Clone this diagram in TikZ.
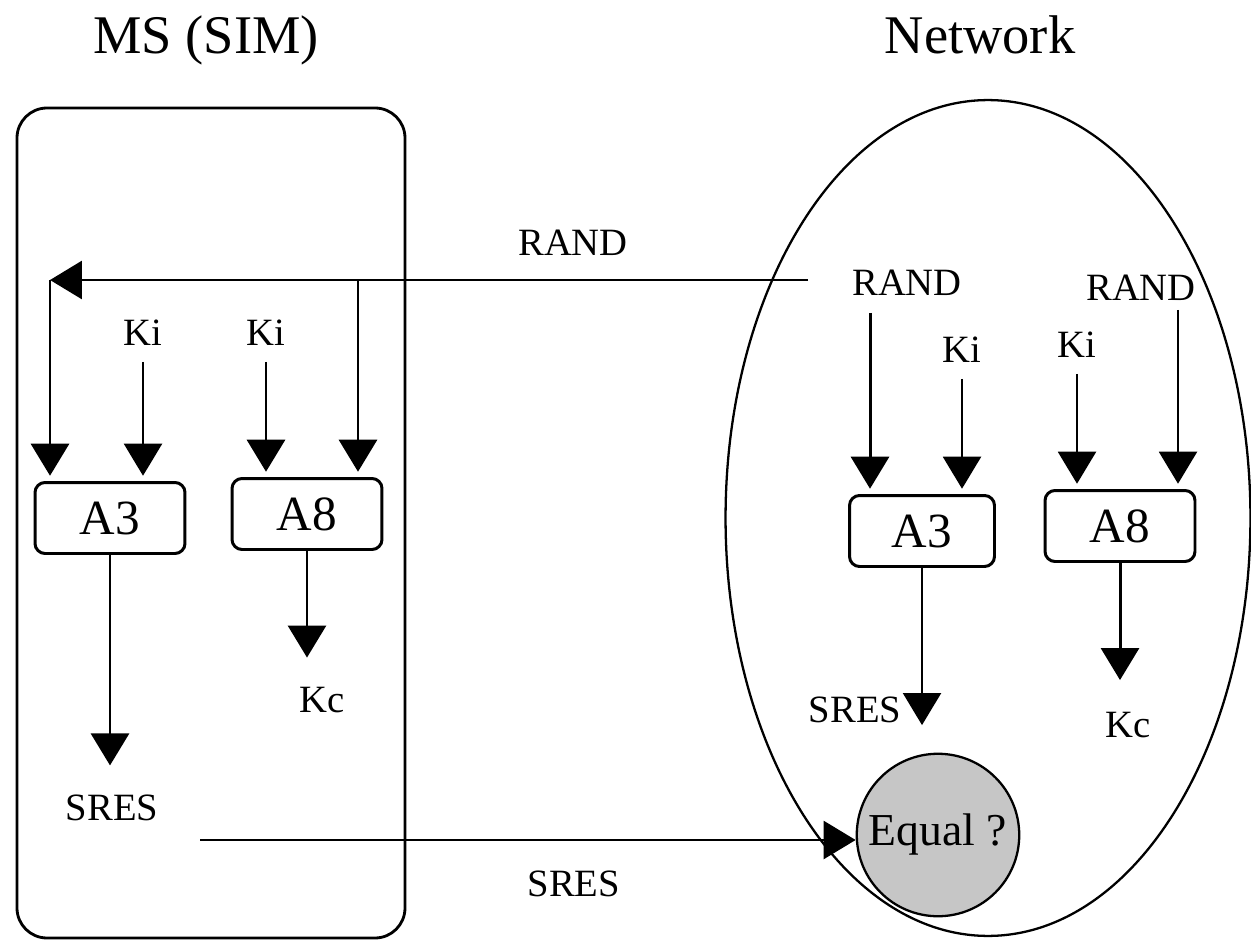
\documentclass[tikz,border=0pt]{standalone}
\usepackage{fontspec}
\setmainfont{Liberation Serif}
\usetikzlibrary{arrows.meta,positioning,calc}
\tikzset{%
  % containers
  container/.style={draw, line width=1.6pt, rounded corners=0.6cm},
  % nodes
  algbox/.style={draw, rounded corners=0.2cm, line width=1.7pt, minimum width=3cm,
    minimum height=1.42cm, font=\fontsize{28}{30}\selectfont},
  lbl/.style={inner sep=1pt, font=\fontsize{22}{24}\selectfont},
  heading/.style={inner sep=1pt, font=\fontsize{31}{34}\selectfont},
  compare/.style={draw, circle, line width=1.3pt, fill=gray!45, minimum size=3.25cm,
    inner sep=0pt, font=\fontsize{26}{28}\selectfont},
  % edge styles
  rel/.style={-{Triangle[width=0.76cm, length=0.64cm]}, line width=1.7pt},
  thinrel/.style={rel, line width=1.2pt},
}

\begin{document}
\begin{tikzpicture}[x=0.02cm, y=-0.02cm]
  \useasboundingbox (0,0) rectangle (1251,942);

  % Titles
  \node[heading] (t_ms) at (206,40) {MS (SIM)};
  \node[heading] (t_net) at (980,35) {Network};

  % Containers
  \draw[container] (17,108) rectangle (405,938);
  \node[compare] (equal) at (938,835) {Equal ?};
  \draw[line width=1.3pt] (988,518) ellipse [x radius=5.25cm, y radius=8.36cm];

  % MS side
  \node[algbox] (ms_a3) at (110,518) {A3};
  \node[algbox] (ms_a8) at (307,514) {A8};
  \node[lbl] (ms_ki1) at (143,333) {Ki};
  \node[lbl] (ms_ki2) at (266,333) {Ki};
  \node[lbl] (ms_sres) at (112,808) {SRES};
  \node[lbl] (ms_kc) at (322,700) {Kc};

  % Network side
  \node[algbox, minimum width=2.9cm] (net_a3) at (922,531) {A3};
  \node[algbox] (net_a8) at (1120,526) {A8};
  \node[lbl] (net_rand1) at (907,283) {RAND};
  \node[lbl] (net_ki1) at (962,350) {Ki};
  \node[lbl] (net_ki2) at (1077,345) {Ki};
  \node[lbl] (net_rand2) at (1141,288) {RAND};
  \node[lbl] (net_sres) at (855,710) {SRES};
  \node[lbl] (net_kc) at (1128,725) {Kc};

  \coordinate (randsrc) at (808,280);
  \coordinate (corner) at (50,280);
  \coordinate (branch) at (358,280);
  \coordinate (nr1) at (870,313);
  \coordinate (nr2) at (1178,310);
  \coordinate (sresout) at (200,840);

  % RAND challenge
  \draw[rel] (randsrc) -- node[lbl, pos=0.31, above=0.42cm] (l_rand) {RAND} (corner);
  \draw[rel, shorten >=3pt] (corner) -- (corner |- ms_a3.north);
  \draw[rel, shorten >=3pt] (branch) -- (branch |- ms_a8.north);
  \draw[thinrel, shorten >=3pt] ([yshift=-8pt]ms_ki1.south) -- (ms_ki1.south |- ms_a3.north);
  \draw[rel, shorten >=3pt] ([yshift=-8pt]ms_ki2.south) -- (ms_ki2.south |- ms_a8.north);

  % MS outputs
  \draw[rel, shorten >=0.55cm] (ms_a3.south) -- (ms_a3.south |- ms_sres.north);
  \draw[rel, shorten >=0.55cm] (ms_a8.south) -- (ms_a8.south |- ms_kc.north);

  % Network inputs
  \draw[rel, shorten >=3pt] (nr1) -- (nr1 |- net_a3.north);
  \draw[thinrel, shorten >=3pt] ([yshift=-8pt]net_ki1.south) -- (net_ki1.south |- net_a3.north);
  \draw[thinrel, shorten >=3pt] ([yshift=-8pt]net_ki2.south) -- (net_ki2.south |- net_a8.north);
  \draw[thinrel, shorten >=3pt] (nr2) -- (nr2 |- net_a8.north);

  % Network outputs
  \draw[thinrel] (net_a3.south) -- (net_a3.south |- net_sres.south);
  \draw[rel, shorten >=0.6cm] (net_a8.south) -- (net_a8.south |- net_kc.north);

  % SRES response
  \draw[rel, line width=1.5pt] (sresout) -- node[lbl, pos=0.57, below=0.55cm] (l_sres) {SRES} (equal.west |- sresout);
\end{tikzpicture}
\end{document}
